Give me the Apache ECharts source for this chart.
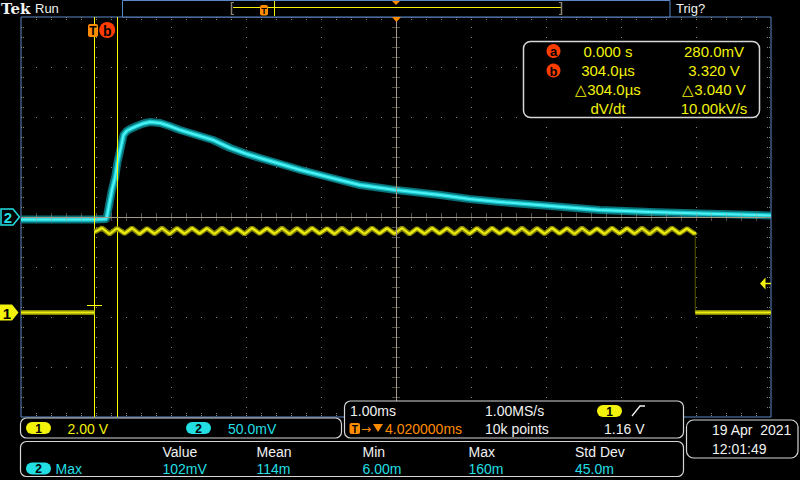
<!DOCTYPE html>
<html>
<head>
<meta charset="utf-8">
<script src="https://cdn.jsdelivr.net/npm/echarts@6/dist/echarts.min.js"></script>
<style>
html,body{margin:0;padding:0;background:#000;}
#chart{width:800px;height:480px;}
</style>
</head>
<body>
<div id="chart"></div>
<script>
// ---------------- settings ----------------
const timePerDiv = 1.0;        // ms / div
const horizPos = 4.02;         // ms at screen centre
const ch1VoltsPerDiv = 2.0;    // V / div
const ch1OffsetDiv = -1.91;    // ground marker position (div)
const ch2MvPerDiv = 50;        // mV / div
const ch2OffsetDiv = 0;

// ---------------- channel 1 (yellow, V) ----------------
const ch1Time = [-0.98, 0.00,
  0.00, 0.10, 0.20, 0.30, 0.40, 0.50, 0.60, 0.70, 0.80, 0.90,
  1.00, 1.10, 1.20, 1.30, 1.40, 1.50, 1.60, 1.70, 1.80, 1.90,
  2.00, 2.10, 2.20, 2.30, 2.40, 2.50, 2.60, 2.70, 2.80, 2.90,
  3.00, 3.10, 3.20, 3.30, 3.40, 3.50, 3.60, 3.70, 3.80, 3.90,
  4.00, 4.10, 4.20, 4.30, 4.40, 4.50, 4.60, 4.70, 4.80, 4.90,
  5.00, 5.10, 5.20, 5.30, 5.40, 5.50, 5.60, 5.70, 5.80, 5.90,
  6.00, 6.10, 6.20, 6.30, 6.40, 6.50, 6.60, 6.70, 6.80, 6.90,
  7.00, 7.10, 7.20, 7.30, 7.40, 7.50, 7.60, 7.70, 7.80, 7.90,
  8.00, 8.01,
  8.01, 9.02];
const ch1Volt = [0.00, 0.00,
  3.22, 3.38, 3.14, 3.37, 3.16, 3.38, 3.14, 3.36, 3.15, 3.38,
  3.14, 3.37, 3.15, 3.38, 3.16, 3.37, 3.14, 3.38, 3.15, 3.36,
  3.14, 3.38, 3.16, 3.37, 3.15, 3.38, 3.14, 3.37, 3.15, 3.38,
  3.16, 3.36, 3.14, 3.38, 3.15, 3.37, 3.14, 3.38, 3.16, 3.37,
  3.15, 3.38, 3.14, 3.36, 3.15, 3.38, 3.16, 3.37, 3.14, 3.38,
  3.15, 3.37, 3.14, 3.38, 3.16, 3.36, 3.15, 3.38, 3.14, 3.37,
  3.15, 3.38, 3.16, 3.37, 3.14, 3.38, 3.15, 3.36, 3.14, 3.38,
  3.16, 3.37, 3.15, 3.38, 3.14, 3.37, 3.15, 3.38, 3.16, 3.36,
  3.15, 3.22,
  0.00, 0.00];

// ---------------- channel 2 (cyan, mV) ----------------
const ch2Time = [-0.98, -0.50, 0.00, 0.15, 0.165, 0.232, 0.276, 0.307, 0.343, 0.387,
  0.43, 0.476, 0.565, 0.65, 0.743, 0.876, 1.00, 1.14, 1.36, 1.58, 1.81, 2.03, 2.25, 2.48, 2.75, 3.01,
  3.27, 3.54, 4.02, 4.61, 5.00, 5.41, 6.08, 6.74, 7.41, 8.08, 9.02];
const ch2Mv = [-2.5, -2.5, -2.5, -2.0, 0.0, 27, 40, 55, 67, 82,
  86, 88, 91, 93.5, 95, 94, 91, 87, 82, 77, 69, 63, 58, 53, 47, 42,
  37, 32, 27, 22, 18, 15, 11, 7, 5, 3.5, 1.5];

// ---------------- cursors & trigger ----------------
const cursorTime = [0.000, 0.304];   // ms
const cursorVolt = [0.280, 3.320];   // V (ch1)
const trigLevel = 1.16;              // V (ch1)

// ---------------- readouts ----------------
const cursorRowsLeft = ['0.000 s', '304.0\u00b5s', '\u25b3304.0\u00b5s', 'dV/dt'];
const cursorRowsRight = ['280.0mV', '3.320 V', '\u25b33.040 V', '10.00kV/s'];
const measHeaders = ['Value', 'Mean', 'Min', 'Max', 'Std Dev'];
const measValues = ['102mV', '114m', '6.00m', '160m', '45.0m'];

// =============================================================
const C = {
  border: '#5a88c8', dot: '#8a8272', centre: '#a39a88',
  yellow: '#f2f20a', cyan: '#22dfe3', orange: '#ff8c00', red: '#ff3d00',
  white: '#f2f2f2', box: '#d6d6d6', grey: '#8a8272'
};
const FONT = '"Liberation Sans", Arial, sans-serif';

const xMin = horizPos - 5 * timePerDiv, xMax = horizPos + 5 * timePerDiv;
const ch1Min = (-4 - ch1OffsetDiv) * ch1VoltsPerDiv, ch1Max = (4 - ch1OffsetDiv) * ch1VoltsPerDiv;
const ch2Min = (-4 - ch2OffsetDiv) * ch2MvPerDiv, ch2Max = (4 - ch2OffsetDiv) * ch2MvPerDiv;

// build ch1 data, breaking the trace at vertical edges
const ch1Data = [], ch1Edges = [];
for (let i = 0; i < ch1Time.length; i++) {
  if (i > 0 && ch1Time[i] === ch1Time[i - 1]) {
    ch1Data.push([ch1Time[i], '-']);
    ch1Edges.push([ch1Time[i - 1], ch1Volt[i - 1]], [ch1Time[i], ch1Volt[i]], [ch1Time[i], '-']);
  }
  ch1Data.push([ch1Time[i], ch1Volt[i]]);
}
const ch2Data = ch2Time.map((t, i) => [t, ch2Mv[i]]);

const chart = echarts.init(document.getElementById('chart'), null, {renderer: 'svg', width: 800, height: 480});

const lineBase = {type: 'line', showSymbol: false, symbol: 'none', silent: true, animation: false, xAxisIndex: 0, clip: true};
const hidden = {show: false};

chart.setOption({
  backgroundColor: '#000',
  animation: false,
  grid: {left: 21, top: 17, width: 750, height: 400, show: true, borderColor: C.border, borderWidth: 1, backgroundColor: 'transparent'},
  xAxis: [
    {type: 'value', min: xMin, max: xMax, show: false},
    {type: 'value', min: 0, max: 10, interval: 1, axisLine: hidden, axisTick: hidden, axisLabel: hidden,
      splitLine: {show: true, showMinLine: false, showMaxLine: false, lineStyle: {color: C.dot, width: 1, type: [1, 9]}}}
  ],
  yAxis: [
    {type: 'value', min: ch1Min, max: ch1Max, show: false},
    {type: 'value', min: ch2Min, max: ch2Max, show: false},
    {type: 'value', min: -4, max: 4, interval: 1, axisLine: hidden, axisTick: hidden, axisLabel: hidden,
      splitLine: {show: true, showMinLine: false, showMaxLine: false, lineStyle: {color: C.dot, width: 1, type: [1, 14]}}}
  ],
  series: [
    {...lineBase, yAxisIndex: 1, data: ch2Data, lineStyle: {color: '#0a7c84', width: 8, opacity: 0.9, join: 'round'}, z: 2},
    {...lineBase, yAxisIndex: 1, data: ch2Data, lineStyle: {color: '#18c4ca', width: 4.5, join: 'round'}, z: 3},
    {...lineBase, yAxisIndex: 1, data: ch2Data, lineStyle: {color: '#4ef2f4', width: 2, join: 'round'}, z: 4},
    {...lineBase, yAxisIndex: 0, data: ch1Edges, lineStyle: {color: '#5a5a00', width: 1}, z: 3},
    {...lineBase, yAxisIndex: 0, data: ch1Data, lineStyle: {color: '#858500', width: 5}, z: 5},
    {...lineBase, yAxisIndex: 0, data: ch1Data, lineStyle: {color: '#ecec12', width: 2.2}, z: 6,
      markLine: {
        silent: true, animation: false, symbol: ['none', 'none'], label: {show: false},
        lineStyle: {color: '#ffff00', width: 1, type: 'solid'},
        emphasis: {disabled: true},
        data: [
          {xAxis: cursorTime[0]},
          {xAxis: cursorTime[1]},
          [{coord: [cursorTime[0] - 0.1, cursorVolt[0]]}, {coord: [cursorTime[0] + 0.1, cursorVolt[0]]}],
          [{coord: [cursorTime[1] - 0.08, cursorVolt[1]]}, {coord: [cursorTime[1] + 0.08, cursorVolt[1]]}]
        ]
      }}
  ]
});

// ---------------- decorations placed from the axes ----------------
const px = t => chart.convertToPixel({xAxisIndex: 0}, t);
const py1 = v => chart.convertToPixel({yAxisIndex: 0}, v);
const py2 = v => chart.convertToPixel({yAxisIndex: 1}, v);
const gx0 = chart.convertToPixel({xAxisIndex: 1}, 0), gx1 = chart.convertToPixel({xAxisIndex: 1}, 10);
const gyT = chart.convertToPixel({yAxisIndex: 2}, 4), gyB = chart.convertToPixel({yAxisIndex: 2}, -4);
const xc = Math.round(chart.convertToPixel({xAxisIndex: 1}, 5)) + 0.5;
const yc = Math.round(chart.convertToPixel({yAxisIndex: 2}, 0)) + 0.5;

const els = [];
const Z = 50;
function line(x1, y1, x2, y2, stroke, w, dash, z) {
  els.push({type: 'line', silent: true, z: z || Z, shape: {x1, y1, x2, y2}, style: {stroke, lineWidth: w || 1, lineDash: dash || null}});
}
function text(x, y, s, fill, opts) {
  opts = opts || {};
  els.push({type: 'text', silent: true, z: opts.z || Z + 5, x, y,
    style: {text: s, fill, font: opts.font || ('14px ' + FONT), align: opts.align || 'left', verticalAlign: 'middle',
      textAlign: opts.align || 'left', textVerticalAlign: 'middle'}});
}
function rect(x, y, w, h, r, fill, stroke, lw, z) {
  els.push({type: 'rect', silent: true, z: z || Z, shape: {x, y, width: w, height: h, r: r || 0},
    style: {fill: fill || 'none', stroke: stroke || 'none', lineWidth: lw || 1}});
}
function poly(points, fill, stroke, lw, z) {
  els.push({type: 'polygon', silent: true, z: z || Z, shape: {points}, style: {fill: fill || 'none', stroke: stroke || 'none', lineWidth: lw || 1}});
}
function pill(x, y, label, fill) {
  rect(x, y, 25, 12, 6, fill, null, 1, Z + 2);
  text(x + 12.5, y + 6.5, label, '#000', {align: 'center', font: 'bold 12px ' + FONT, z: Z + 3});
}

// graticule centre lines and minor ticks
line(gx0, yc, gx1, yc, C.centre, 1, null, 10);
line(xc, gyT, xc, gyB, C.centre, 1, null, 10);
const stepX = (gx1 - gx0) / 50, stepY = (gyB - gyT) / 40;
for (let k = 1; k < 50; k++) {
  const x = Math.round(gx0 + k * stepX) + 0.5;
  line(x, gyT, x, gyT + 4, C.dot, 1, [1, 1], 10);
  line(x, gyB - 4, x, gyB, C.dot, 1, [1, 1], 10);
  line(x, yc - 4, x, yc + 4, C.centre, 1, [1, 1], 10);
}
for (let k = 1; k < 40; k++) {
  const y = Math.round(gyT + k * stepY) + 0.5;
  line(gx0, y, gx0 + 4, y, C.dot, 1, [1, 1], 10);
  line(gx1 - 4, y, gx1, y, C.dot, 1, [1, 1], 10);
  line(xc - 4, y, xc + 4, y, C.centre, 1, [1, 1], 10);
}
// expansion point marker at top centre
poly([[xc - 4.5, gyT], [xc + 4.5, gyT], [xc, gyT + 5]], C.orange, null, 1, 60);

// channel ground markers on left
const y2m = py2(0), y1m = py1(0);
poly([[1, y2m - 8], [13, y2m - 8], [19.5, y2m], [13, y2m + 8], [1, y2m + 8]], '#000', C.cyan, 1.5, 60);
text(8, y2m + 0.5, '2', C.cyan, {align: 'center', font: 'bold 15px ' + FONT, z: 61});
poly([[0, y1m - 8], [12, y1m - 8], [18.5, y1m], [12, y1m + 8], [0, y1m + 8]], C.yellow, null, 1, 60);
text(7, y1m + 0.5, '1', '#000', {align: 'center', font: 'bold 15px ' + FONT, z: 61});

// trigger level arrow on right edge
const yt = py1(trigLevel), xr = gx1;
poly([[xr - 11, yt], [xr - 5.5, yt - 6], [xr - 5.5, yt + 6]], C.yellow, null, 1, 60);
line(xr - 6, yt, xr, yt, C.yellow, 1.5, null, 60);

// trigger 'T' and cursor 'b' tags at the top of the graticule
const xa = px(cursorTime[0]);
rect(xa - 6.5, gyT + 7, 10, 13, 2, C.orange, null, 1, 60);
text(xa - 1.5, gyT + 14, 'T', '#000', {align: 'center', font: 'bold 12px ' + FONT, z: 61});
els.push({type: 'circle', silent: true, z: 60, shape: {cx: xa + 12.7, cy: gyT + 13, r: 8}, style: {fill: C.red}});
text(xa + 12.7, gyT + 13.5, 'b', '#000', {align: 'center', font: 'bold 14px ' + FONT, z: 61});

// ---------------- top status bar ----------------
text(1, 8.5, 'Tek', C.white, {font: 'bold 15px "DejaVu Serif", serif'});
text(35, 8.5, 'Run', C.white, {font: '13px ' + FONT});
text(676, 8.5, 'Trig?', C.white, {font: '13px ' + FONT});
rect(122.5, 0.5, 547.5, 16.5, 0, '#000', C.border, 1);
line(233, 7.5, 561, 7.5, C.yellow, 1);
line(231.5, 2, 231.5, 15, C.grey, 1.5); line(231.5, 2.5, 234, 2.5, C.grey, 1); line(231.5, 14.5, 234, 14.5, C.grey, 1);
line(561.5, 2, 561.5, 15, C.grey, 1.5); line(559, 2.5, 561.5, 2.5, C.grey, 1); line(559, 14.5, 561.5, 14.5, C.grey, 1);
rect(260, 5, 8, 10.5, 2, C.orange, null, 1, Z + 2);
text(264, 10.5, 'T', '#000', {align: 'center', font: 'bold 9px ' + FONT, z: Z + 3});
line(274.5, 1, 274.5, 16, C.yellow, 1, null, Z + 2);
poly([[392, 1], [400, 1], [396, 5]], C.orange, null, 1, Z + 2);

// ---------------- cursor readout ----------------
rect(523.5, 41.5, 236, 76, 7, '#000', C.box, 1.5);
const rowY = [51, 70.5, 89.5, 108.5];
['a', 'b'].forEach((s, i) => {
  els.push({type: 'circle', silent: true, z: Z + 2, shape: {cx: 553.5, cy: rowY[i], r: 7}, style: {fill: C.red}});
  text(553.5, rowY[i] + 0.5, s, '#000', {align: 'center', font: 'bold 13px ' + FONT, z: Z + 3});
});
cursorRowsLeft.forEach((s, i) => text(608, rowY[i], s, C.yellow, {align: 'center', font: '15px ' + FONT}));
cursorRowsRight.forEach((s, i) => text(714, rowY[i], s, C.yellow, {align: 'center', font: '15px ' + FONT}));

// ---------------- bottom boxes ----------------
rect(20.5, 418, 321, 20, 6, '#000', C.box, 1.2);
pill(26, 422, '1', C.yellow);
text(67.5, 428.5, '2.00 V', C.yellow);
pill(186, 422, '2', C.cyan);
text(228, 428.5, '50.0mV', C.cyan);

rect(344.5, 401, 339, 37, 6, '#000', C.box, 1.2);
text(350, 411, '1.00ms', C.white);
text(485, 411, '1.00MS/s', C.white);
pill(597, 405, '1', C.yellow);
els.push({type: 'polyline', silent: true, z: Z + 2, shape: {points: [[632, 416], [640, 406], [645, 406]]}, style: {stroke: C.white, lineWidth: 1.3, fill: 'none'}});
rect(349.5, 423, 10.5, 11, 2, C.orange, null, 1, Z + 2);
text(354.75, 429, 'T', '#000', {align: 'center', font: 'bold 10px ' + FONT, z: Z + 3});
text(361, 428.5, '\u2192', C.orange, {font: '12px "DejaVu Sans", sans-serif'});
poly([[373, 424], [383, 424], [378, 432]], C.orange, null, 1, Z + 2);
text(385, 429, '4.020000ms', C.orange);
text(485, 429, '10k points', C.white);
text(604, 429, '1.16 V', C.white);

rect(686.5, 420, 111.5, 38, 7, '#000', C.box, 1.2);
text(712, 430, '19 Apr\u00a0\u00a02021', C.white);
text(712, 448.5, '12:01:49', C.white);

rect(20.5, 441.5, 663, 35, 6, '#000', C.box, 1.2);
const colX = [162.5, 256.5, 362.5, 468.5, 575];
measHeaders.forEach((s, i) => text(colX[i], 452, s, C.white));
pill(26, 462.5, '2', C.cyan);
text(55.5, 469, 'Max', C.cyan);
measValues.forEach((s, i) => text(colX[i], 469, s, C.cyan));

chart.setOption({graphic: {elements: els}});
</script>
</body>
</html>
